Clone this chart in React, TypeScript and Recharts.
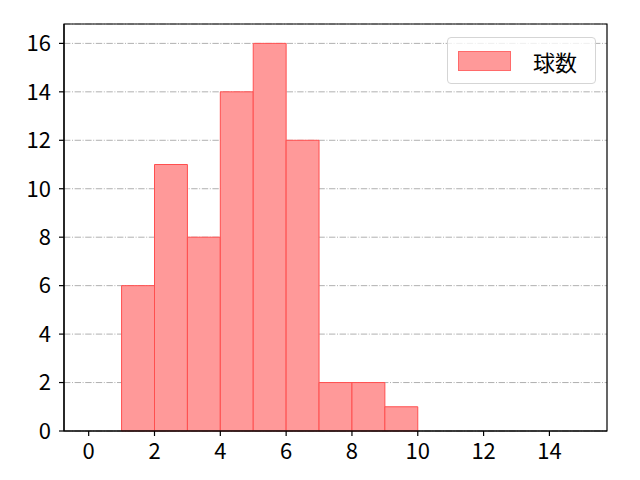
import React from "react";
import {
  ComposedChart,
  XAxis,
  YAxis,
  CartesianGrid,
  ReferenceArea,
  Line,
} from "recharts";

const binStarts = [1, 2, 3, 4, 5, 6, 7, 8, 9];
const binEnds = [2, 3, 4, 5, 6, 7, 8, 9, 10];
const counts = [6, 11, 8, 14, 16, 12, 2, 2, 1];
const xTicks = [0, 2, 4, 6, 8, 10, 12, 14];
const yTicks = [0, 2, 4, 6, 8, 10, 12, 14, 16];
const seriesName = "球数";

const FONT = "'Noto Sans CJK JP', 'DejaVu Sans', sans-serif";
const dummy = [{ x: -0.75 }, { x: 15.75 }];

const LegendBox = () => (
  <div
    style={{
      position: "absolute",
      left: 447,
      top: 37,
      width: 149,
      height: 47,
      boxSizing: "border-box",
      border: "1px solid #d5d5d5",
      borderRadius: 4,
      background: "rgba(255,255,255,0.8)",
      display: "flex",
      alignItems: "center",
      fontFamily: FONT,
      fontSize: 22,
      color: "#000",
    }}
  >
    <div
      style={{
        width: 53,
        height: 20,
        marginLeft: 10,
        background: "#ff9999",
        border: "1px solid #ff6a6a",
        boxSizing: "border-box",
      }}
    />
    <span style={{ marginLeft: 22, lineHeight: 1, paddingTop: 1 }}>{seriesName}</span>
  </div>
);

export default function App() {
  return (
    <div style={{ position: "absolute", left: 0, top: 0, width: 640, height: 480, background: "#fff" }}>
      <ComposedChart
        width={640}
        height={480}
        data={dummy}
        margin={{ top: 24, right: 33, bottom: 0, left: 0 }}
      >
        <CartesianGrid
          horizontal
          vertical={false}
          stroke="#b0b0b0"
          strokeDasharray="6.4 1.6 1 1.6"
          strokeWidth={1}
        />
        {binStarts.map((s, i) => (
          <ReferenceArea
            key={i}
            x1={s}
            x2={binEnds[i]}
            y1={0}
            y2={counts[i]}
            fill="#ff9999"
            fillOpacity={1}
            stroke="#ff4f4f"
            strokeOpacity={1}
            strokeWidth={1}
            ifOverflow="visible"
          />
        ))}
        <ReferenceArea
          x1={-0.75}
          x2={15.75}
          y1={0}
          y2={16.8}
          fill="none"
          stroke="#000"
          strokeWidth={1.2}
          ifOverflow="visible"
        />
        <XAxis
          dataKey="x"
          type="number"
          domain={[-0.75, 15.75]}
          ticks={xTicks}
          allowDataOverflow
          height={49}
          tickSize={5}
          tickMargin={7}
          stroke="#000"
          tick={{ fill: "#000", fontSize: 22, fontFamily: FONT }}
          axisLine={{ stroke: "#000", strokeWidth: 1.2 }}
          tickLine={{ stroke: "#000", strokeWidth: 1.2 }}
        />
        <YAxis
          type="number"
          domain={[0, 16.8]}
          ticks={yTicks}
          allowDataOverflow
          width={64}
          tickSize={5}
          tickMargin={8}
          stroke="#000"
          tick={{ fill: "#000", fontSize: 22, fontFamily: FONT }}
          axisLine={{ stroke: "#000", strokeWidth: 1.2 }}
          tickLine={{ stroke: "#000", strokeWidth: 1.2 }}
        />
        <Line dataKey="x" stroke="none" dot={false} legendType="none" isAnimationActive={false} />
      </ComposedChart>
      <LegendBox />
    </div>
  );
}
